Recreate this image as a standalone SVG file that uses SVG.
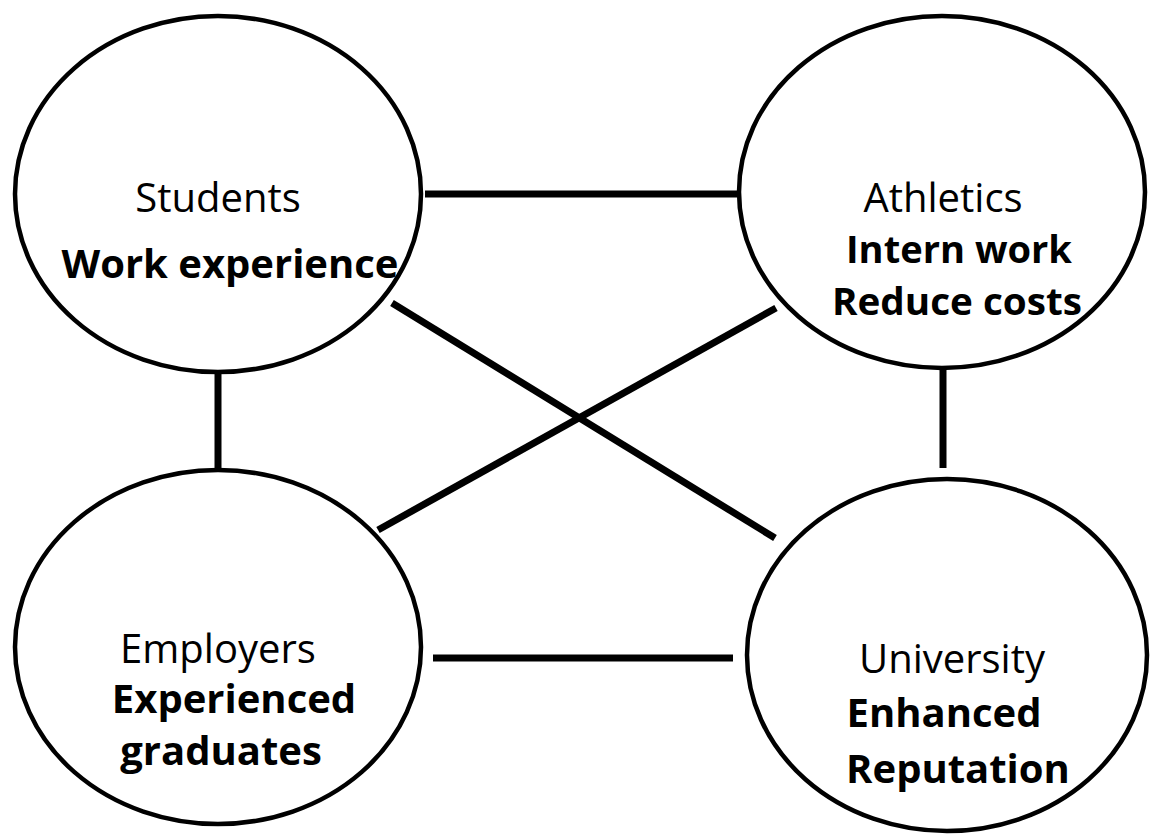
<svg xmlns="http://www.w3.org/2000/svg" width="1151" height="834" viewBox="0 0 1151 834">
<style>
.node{fill:#fff;stroke:#000;stroke-width:4.5}
.edge{stroke:#000;stroke-width:7;fill:none}
.t{font-family:"Open Sans","Liberation Sans",sans-serif;font-size:40px;fill:#000;text-anchor:middle}
.b{font-weight:bold}
.s{font-size:38px}
</style>
<rect width="1151" height="834" fill="#fff"/>
<g id="connectors">
<line class="edge" x1="425" y1="194" x2="737" y2="194"/>
<line class="edge" x1="218" y1="373" x2="218" y2="468"/>
<line class="edge" x1="943" y1="370" x2="943" y2="468"/>
<line class="edge" x1="433" y1="658" x2="733" y2="658"/>
<line class="edge" x1="392" y1="303" x2="775" y2="538"/>
<line class="edge" x1="378" y1="530" x2="776" y2="308"/>
</g>
<g id="students">
<ellipse class="node" cx="218" cy="194" rx="203" ry="178"/>
<text class="t" x="218" y="212">Students</text>
<text class="t b" x="230" y="278">Work experience</text>
</g>
<g id="athletics">
<ellipse class="node" cx="942" cy="192" rx="203" ry="176"/>
<text class="t" x="943" y="212">Athletics</text>
<text class="t b s" x="959" y="263" textLength="226" lengthAdjust="spacingAndGlyphs">Intern work</text>
<text class="t b s" x="957" y="315" textLength="250" lengthAdjust="spacingAndGlyphs">Reduce costs</text>
</g>
<g id="employers">
<ellipse class="node" cx="218" cy="647" rx="203" ry="177"/>
<text class="t" x="218" y="663">Employers</text>
<text class="t b" x="234" y="713">Experienced</text>
<text class="t b" x="221" y="765">graduates</text>
</g>
<g id="university">
<ellipse class="node" cx="947" cy="655" rx="200" ry="176"/>
<text class="t" x="952" y="673">University</text>
<text class="t b" x="944" y="727">Enhanced</text>
<text class="t b" x="958" y="783">Reputation</text>
</g>
</svg>
